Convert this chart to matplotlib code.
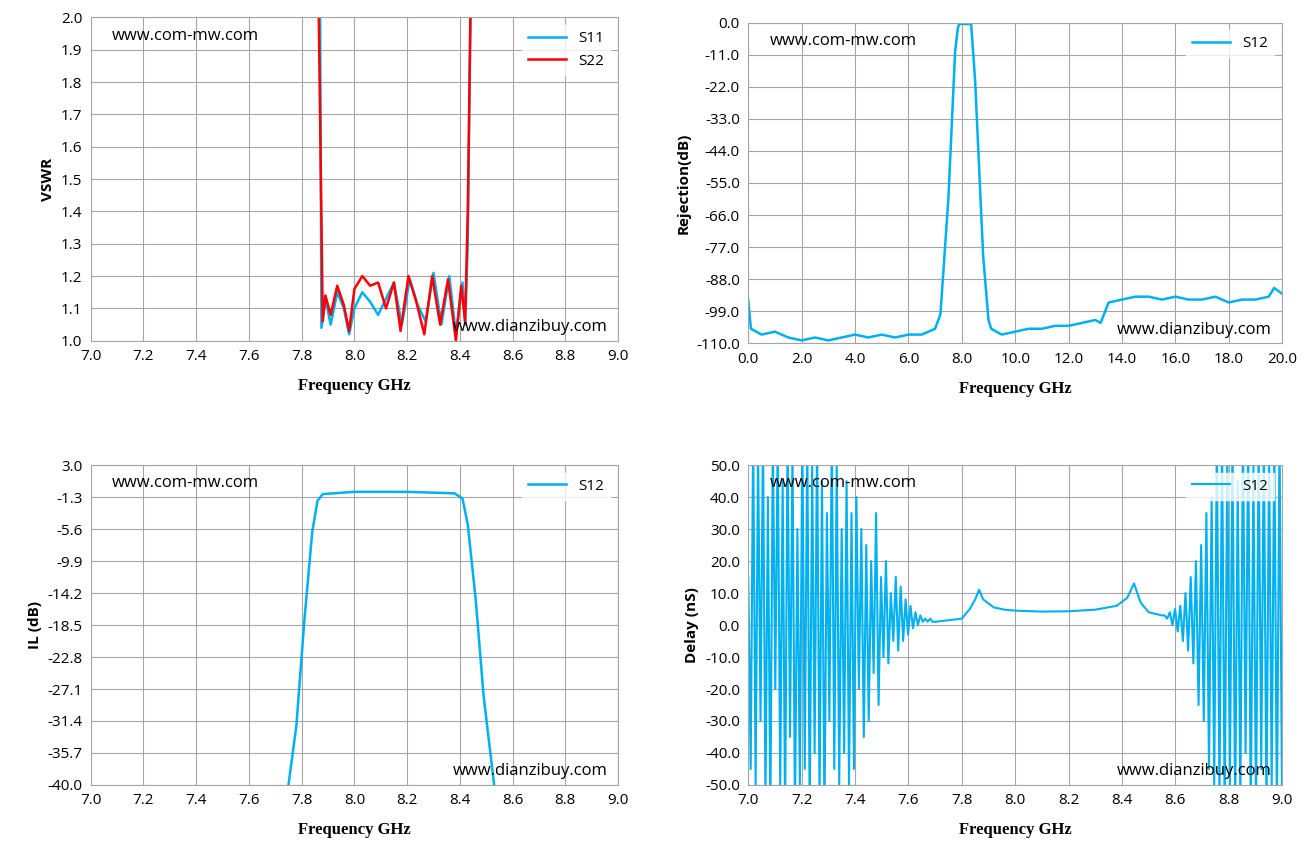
import numpy as np
import matplotlib.pyplot as plt

plt.rcParams['font.family'] = ['Open Sans', 'DejaVu Sans']

BLUE = '#00B0F0'
RED = '#FF0000'

# VSWR
vswr_f11 = [7.87, 7.875, 7.89, 7.91, 7.935, 7.96, 7.98, 8.0, 8.03, 8.06, 8.09, 8.12, 8.15, 8.18, 8.21,
            8.24, 8.27, 8.30, 8.33, 8.36, 8.385, 8.41, 8.42, 8.43, 8.44]
vswr_s11 = [2.0, 1.04, 1.13, 1.05, 1.15, 1.10, 1.02, 1.10, 1.15, 1.12, 1.08, 1.13, 1.18, 1.05, 1.19,
            1.11, 1.06, 1.21, 1.05, 1.20, 1.02, 1.18, 1.05, 1.3, 2.0]
vswr_f22 = [7.865, 7.88, 7.89, 7.91, 7.935, 7.96, 7.98, 8.0, 8.03, 8.06, 8.09, 8.12, 8.15, 8.175, 8.205,
            8.235, 8.265, 8.295, 8.325, 8.355, 8.385, 8.405, 8.42, 8.43, 8.44]
vswr_s22 = [2.0, 1.06, 1.14, 1.08, 1.17, 1.11, 1.03, 1.16, 1.20, 1.17, 1.18, 1.10, 1.18, 1.03, 1.20,
            1.12, 1.02, 1.20, 1.05, 1.19, 1.0, 1.17, 1.06, 1.4, 2.0]

# Rejection
rej_f = [0, 0.1, 0.5, 1, 1.5, 2, 2.5, 3, 3.5, 4, 4.5, 5, 5.5, 6, 6.5, 7, 7.2, 7.5, 7.75, 7.85, 7.9, 8.35,
         8.5, 8.8, 9.0, 9.1, 9.5, 10, 10.5, 11, 11.5, 12, 12.5, 13, 13.2, 13.5, 14, 14.5, 15, 15.5, 16,
         16.5, 17, 17.5, 18, 18.5, 19, 19.5, 19.7, 20]
rej_s12 = [-95, -105, -107, -106, -108, -109, -108, -109, -108, -107, -108, -107, -108, -107, -107, -105,
           -100, -60, -10, -2, -0.5, -0.5, -20, -80, -102, -105, -107, -106, -105, -105, -104, -104, -103,
           -102, -103, -96, -95, -94, -94, -95, -94, -95, -95, -94, -96, -95, -95, -94, -91, -93]

# Insertion loss
il_f = [7.75, 7.78, 7.81, 7.84, 7.86, 7.88, 8.0, 8.2, 8.38, 8.41, 8.43, 8.46, 8.49, 8.53]
il_s12 = [-40, -32, -18, -6, -1.8, -0.9, -0.6, -0.6, -0.8, -1.5, -5, -15, -28, -40]

# Delay
delay_noise_left = [15, -45, 60, -50, 55, -30, 60, -55, 40, -60, 58, -20, 60, -50, 45, -60, 60, -35, 55, -60,
                    30, -50, 60, -45, 60, -60, 50, -40, 60, -55, 45, -60, 35, -30, 60, -45, 52, -50, 30, -40,
                    45, -50, 35, -45, 40, -20, 30, -35, 25, -30, 20, -15, 35, -25, 15, -10, 20, -12, 10, -5,
                    15, -8, 12, -5, 8, -3, 6, -1, 4, 0, 3, 1, 2, 1, 2, 1]
delay_mid_f = [7.7, 7.75, 7.8, 7.83, 7.85, 7.865, 7.88, 7.92, 7.96, 8.0, 8.1, 8.2, 8.3, 8.38, 8.42, 8.445,
               8.47, 8.5, 8.55]
delay_mid = [1, 1.5, 2, 5, 8, 11, 8, 5.5, 4.8, 4.5, 4.2, 4.3, 4.8, 6, 8.5, 13, 7, 4, 3]
delay_noise_right = [3, 2, 4, 0, 5, -2, 6, -5, 10, -8, 15, -12, 20, -25, 25, -30, 35, -45, 40, -50, 60, -55,
                     60, -60, 55, -50, 60, -60, 45, -55, 60, -40, 60, -60, 50, -60, 60, -45, 60, -60, 55, -50,
                     60, -60, 60, -60]

fig = plt.figure(figsize=(13.15, 8.67), dpi=100)
lab_font = dict(family='Liberation Serif', fontweight='bold', fontsize=12)


def style(ax, xl, yl, xlim, ylim, xt, yt):
    ax.set_xlim(xlim)
    ax.set_ylim(ylim)
    ax.set_xticks(xt)
    ax.set_yticks(yt)
    ax.set_xticklabels(['%.1f' % v for v in xt], fontsize=11)
    ax.set_yticklabels(['%.1f' % v for v in yt], fontsize=11)
    ax.grid(True, color='#a6a6a6', lw=0.8)
    for s in ax.spines.values():
        s.set_color('#a6a6a6')
    ax.tick_params(length=0, pad=6)
    ax.set_xlabel(xl, labelpad=10, **lab_font)
    ax.set_ylabel(yl, fontweight='bold', fontsize=11)
    ax.text(0.04, 0.93, 'www.com-mw.com', transform=ax.transAxes, fontsize=12)
    ax.text(0.98, 0.03, 'www.dianzibuy.com', transform=ax.transAxes, fontsize=12, ha='right')
    ax.legend(loc='upper right', fancybox=False, edgecolor='white', fontsize=11, handlelength=2.5)


ax1 = fig.add_axes([0.069, 0.607, 0.401, 0.373])
ax1.plot(vswr_f11, vswr_s11, color=BLUE, lw=1.8, label='S11')
ax1.plot(vswr_f22, vswr_s22, color=RED, lw=1.8, label='S22')
style(ax1, 'Frequency GHz', 'VSWR', (7, 9), (1, 2), np.linspace(7, 9, 11), np.linspace(1, 2, 11))

ax2 = fig.add_axes([0.569, 0.604, 0.406, 0.370])
ax2.plot(rej_f, rej_s12, color=BLUE, lw=1.8, label='S12')
style(ax2, 'Frequency GHz', 'Rejection(dB)', (0, 20), (-110, 0), np.linspace(0, 20, 11), np.linspace(-110, 0, 11))

ax3 = fig.add_axes([0.069, 0.0946, 0.401, 0.369])
ax3.plot(il_f, il_s12, color=BLUE, lw=1.8, label='S12')
style(ax3, 'Frequency GHz', 'IL (dB)', (7, 9), (-40, 3), np.linspace(7, 9, 11), np.linspace(-40, 3, 11))

ax4 = fig.add_axes([0.569, 0.0946, 0.406, 0.369])
fl = np.linspace(7.0, 7.7, len(delay_noise_left), endpoint=False)
fr = np.linspace(8.55, 9.0, len(delay_noise_right) + 1)[1:]
dx = list(fl) + delay_mid_f + list(fr)
dy = delay_noise_left + delay_mid + delay_noise_right
ax4.plot(dx, dy, color=BLUE, lw=1.5, label='S12')
style(ax4, 'Frequency GHz', 'Delay (nS)', (7, 9), (-50, 50), np.linspace(7, 9, 11), np.linspace(-50, 50, 11))

fig.savefig('out.png', dpi=100)
